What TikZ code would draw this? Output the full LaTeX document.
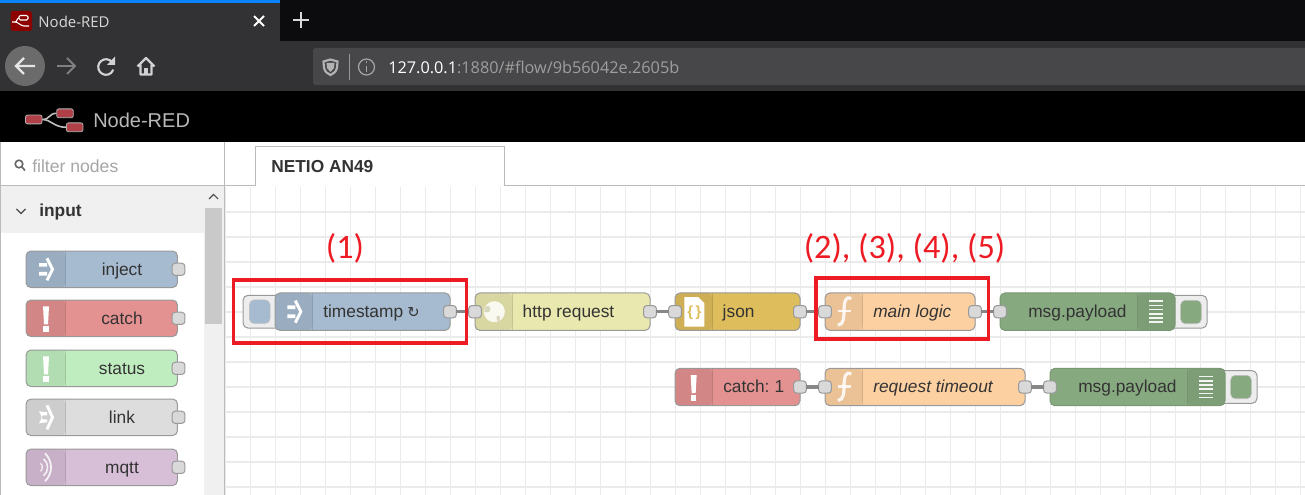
\documentclass[tikz,border=0pt]{standalone}
\usepackage{fontspec}
\setmainfont{Liberation Sans}
\newfontfamily\uifont{Open Sans}
\newfontfamily\notefont{Carlito}
\newfontfamily\symfont{DejaVu Sans}
\usetikzlibrary{positioning,calc}
\pgfdeclarelayer{canvas}
\pgfdeclarelayer{under}
\pgfsetlayers{canvas,under,main}
\definecolor{chrome}{HTML}{323234}
\definecolor{strip}{HTML}{0C0C0E}
\definecolor{urlbg}{HTML}{474749}
\definecolor{tabblue}{HTML}{0A84FF}
\definecolor{edge}{HTML}{BBBBBB}
\definecolor{gridcol}{HTML}{EBEBEB}
\definecolor{injcol}{HTML}{A6BBCF}
\definecolor{catchcol}{HTML}{E49191}
\definecolor{statcol}{HTML}{C0EDC0}
\definecolor{linkcol}{HTML}{DDDDDD}
\definecolor{mqttcol}{HTML}{D8BFD8}
\definecolor{httpcol}{HTML}{E9E8AE}
\definecolor{jsoncol}{HTML}{DEBD5C}
\definecolor{funccol}{HTML}{FDD0A2}
\definecolor{debugcol}{HTML}{87A980}
\definecolor{notered}{HTML}{ED1C24}
\definecolor{nodetxt}{HTML}{333333}
\definecolor{logored}{HTML}{B04048}
\tikzset{
  injecticon/.pic={
    \fill[white] (-7,-6.3) rectangle (1,-2.6) (-7,2.6) rectangle (1,6.3);
    \draw[white,line width=2.2pt,miter limit=6] (1,-11) -- (6.5,0) -- (1,11);
  },
  linkicon/.pic={
    \fill[white] (-7,-6) -- (1,-5) -- (1,-2) -- (-3,-2) -- (-5,0) -- (-3,2) -- (1,2) -- (1,5) -- (-7,6) -- (-4,0) -- cycle;
    \draw[white,line width=2.2pt,miter limit=6] (1,-12) -- (6.5,0) -- (1,12);
  },
  mqtticon/.pic={
    \draw[white,opacity=.85,line width=.9pt] (-5.5,-4) .. controls (-3,-2) and (-3,2) .. (-5.5,4);
    \draw[white,opacity=.85,line width=1.1pt] (-2.5,-8.5) .. controls (3,-4) and (3,4) .. (-2.5,8.5);
    \draw[white,opacity=.85,line width=1.3pt] (-1,-14) .. controls (7,-6) and (7,6) .. (-1,14);
  },
  bangicon/.pic={
    \fill[white] (-3,-12) -- (3,-12) -- (2,6) -- (-2,6) -- cycle;
    \fill[white] (-2.6,8) rectangle (2.6,13.5);
  },
  globeicon/.pic={
    \fill[white,opacity=.85] (0,0) circle (10.5);
    \fill[httpcol!75!black,opacity=.45] (-9,-5) .. controls (-4,-8) and (-3,-3) .. (-5,0) .. controls (-8,1) .. (-10,0) -- cycle;
    \fill[httpcol!75!black,opacity=.45] (2,5) .. controls (5,3) and (7,5) .. (5,9) .. controls (3,10) .. (2,5) -- cycle;
  },
  jsonicon/.pic={
    \fill[white] (-10,-14.5) -- (4,-14.5) -- (10,-8.5) -- (10,15) -- (-10,15) -- cycle;
    \node[text=jsoncol,font=\bfseries\fontsize{11}{13}\selectfont,inner sep=0pt] (bracetxt) at (0,1) {\{\,\}};
  },
  funcicon/.pic={
    \draw[white,opacity=.85,line width=2.4pt] (7,-13) .. controls (1,-16) and (0,-10) .. (-.3,-3) .. controls (-.5,5) and (0,13) .. (-6.5,13.5);
    \draw[white,opacity=.85,line width=1.7pt] (-6,-.5) -- (7,-.5);
  },
  debugicon/.pic={
    \foreach \k in {-2.5,-1.5,-.5,.5,1.5,2.5}
      \fill[white,opacity=.9] (-7,4.2*\k-.8) rectangle (7,4.2*\k+.8);
  }
}
\begin{document}
\begin{tikzpicture}[
      x=.75pt,y=-.75pt,
      node distance=18.75pt,
      flow/.style={
        draw=black!40,
        line width=.75pt,
        rounded corners=3.75pt,
        outer sep=0pt,
        inner sep=0pt,
        minimum height=28.1pt,
        minimum width=#1*.75pt
      },
      pal/.style={
        draw=black!40,
        line width=.75pt,
        rounded corners=3.75pt,
        outer sep=0pt,
        inner sep=0pt,
        minimum height=27.4pt,
        minimum width=113.6pt,
        leftpanel=39.5
      },
      leftpanel/.style={
        path picture={
          \fill[black,opacity=.07] (path picture bounding box.north west) rectangle ([xshift=#1*.75pt]path picture bounding box.south west);
          \draw[black,opacity=.12,line width=.6pt] ([xshift=#1*.75pt]path picture bounding box.north west) -- ([xshift=#1*.75pt]path picture bounding box.south west);
        }
      },
      rightpanel/.style={
        path picture={
          \fill[black,opacity=.07] (path picture bounding box.north east) rectangle ([xshift=-#1*.75pt]path picture bounding box.south east);
          \draw[black,opacity=.1,line width=.6pt] ([xshift=-#1*.75pt]path picture bounding box.north east) -- ([xshift=-#1*.75pt]path picture bounding box.south east);
        }
      },
      port/.style={
        draw=black!40,
        fill=black!15,
        line width=.75pt,
        rounded corners=2.5pt,
        inner sep=0pt,
        outer sep=0pt,
        minimum width=9.7pt,
        minimum height=9.2pt
      },
      wire/.style={draw=black!47,line width=2.4pt},
      lbl/.style={
        anchor=west,
        inner sep=0pt,
        text=nodetxt,
        text height=9.5pt,
        text depth=.6pt,
        font=\fontsize{13}{15}\selectfont
      },
      btn/.style={
        draw=black!40,
        fill=black!7,
        line width=.75pt,
        rounded corners=3.75pt,
        inner sep=0pt,
        outer sep=0pt,
        minimum height=24.6pt,
        minimum width=28pt
      },
      btncore/.style={
        draw=black!25,
        fill=#1,
        rounded corners=3.5pt,
        inner sep=0pt,
        minimum width=15.5pt,
        minimum height=17.6pt
      },
      redbox/.style={
        draw=notered,
        line width=2.6pt,
        minimum width=#1*.75pt,
        inner sep=0pt
      },
      note/.style={
        text=notered,
        inner sep=0pt,
        font=\notefont\fontsize{25.7}{30}\selectfont
      },
      logo/.style={
        draw=black!30,
        fill=logored,
        line width=.6pt,
        rounded corners=1.5pt,
        inner sep=0pt,
        minimum width=12.4pt,
        minimum height=6.6pt
      }
      ]
      \useasboundingbox (0,0) rectangle (1305,495);

      \begin{pgfonlayer}{canvas}
      \fill[white] (0,0) rectangle (1305,495);
      \fill[strip] (280,0) rectangle (1305,41);
      \fill[chrome] (0,0) rectangle (280,41);
      \fill[tabblue] (0,0) rectangle (280,3);
      \fill[chrome] (0,41) rectangle (1305,91);
      \fill[black] (0,91) rectangle (1305,142);
      \foreach \gx in {225,250,...,1300}
        \draw[gridcol,line width=1.2pt] (\gx+.5,187) -- (\gx+.5,495);
      \foreach \gy in {212,237,...,495}
        \draw[gridcol,line width=1.2pt] (225,\gy) -- (1305,\gy);
      \fill[black!6] (1,186) rectangle (204,233);
      \fill[black!6] (204,186) rectangle (224,495);
      \fill[black!21] (205,208) rectangle (222,324);
      \draw[edge,line width=.75pt] (.5,142) -- (.5,495);
      \draw[edge,line width=.75pt] (224.5,142) -- (224.5,495);
      \draw[edge,line width=.75pt] (0,186) -- (1305,186);
      \end{pgfonlayer}

      % browser
      \node[font=\uifont\fontsize{11.2}{14}\selectfont,text=black!15,inner sep=0pt] (tabname) at (74,21.5) {Node-RED};
      \fill[red!55!black,rounded corners=2pt] (10.5,11) rectangle (32,31);
      \draw[white,line width=.8pt,rounded corners=1pt] (19,15.5) rectangle (28,20);
      \draw[white,line width=.8pt] (12,22) -- (15,22) .. controls (17,22) and (17,18) .. (19,18) (15,22) .. controls (18,22) and (21,26) .. (24,26) -- (29,26);
      \draw[white,line width=1.5pt] (254,16) -- (264,26) (264,16) -- (254,26);
      \draw[white!85!black,line width=1.5pt] (301,12) -- (301,28) (293,20) -- (309,20);
      \fill[black!58] (25,66) circle (20);
      \draw[black!10,line width=1.6pt] (16,66) -- (35,66) (24,58) -- (16,66) -- (24,74);
      \draw[black!50,line width=1.4pt] (57,66) -- (75,66) (67,58) -- (75,66) -- (67,74);
      \draw[black!18,line width=1.6pt] (112,62) arc (-40:-340:7.8);
      \fill[black!18] (115,56.5) -- (115,65) -- (107,65) -- cycle;
      \draw[black!18,line width=1.6pt,line join=round] (137.5,66.5) -- (146,58) -- (154.5,66.5) (140.5,65) -- (140.5,74.5) -- (151.5,74.5) -- (151.5,65);
      \fill[black!18] (144,68) rectangle (148,74.5);
      \fill[urlbg,rounded corners=2pt] (313,48) rectangle (1310,85);
      \draw[black!30,line width=1.6pt,fill=urlbg] (323.5,61.5) -- (330.5,59.5) -- (337.5,61.5) -- (337,68) .. controls (336,72) and (333,74) .. (330.5,75) .. controls (328,74) and (325,72) .. (324,68) -- cycle;
      \fill[black!30] (326.5,63) -- (334.5,63) -- (334,68) -- (330.5,72) -- (327,68) -- cycle;
      \draw[black!40] (349,54) -- (349,80);
      \draw[black!35,line width=.9pt] (366.5,67) circle (8);
      \draw[black!35,line width=1.2pt] (366.5,66) -- (366.5,72) (366.5,61.5) -- (366.5,63.5);
      \node[anchor=west,inner sep=0pt,font=\uifont\fontsize{12.2}{15}\selectfont,text=white] (urltxt) at (388,67) {127.0.0.1\textcolor{black!38}{:1880/\#flow/9b56042e.2605b}};

      % header
      \node[logo] (logoa) at (33.8,119.5) {};
      \node[logo] (logob) at (65,113.3) {};
      \node[logo] (logoc) at (74.7,127.3) {};
      \draw[black!25,line width=1.2pt] (logoa.east) .. controls (50,119.5) and (49,113.3) .. (logob.west);
      \draw[black!25,line width=1.2pt] (logoa.east) .. controls (51,119.5) and (54,127.3) .. (logoc.west);
      \node[anchor=west,inner sep=0pt,text=black!28,font=\fontsize{15}{18}\selectfont] (brand) at (93,120.5) {Node-RED};

      % sidebar
      \draw[black!60,line width=1.2pt] (19,164) circle (3.8) (22,167) -- (25,170.5);
      \node[anchor=west,inner sep=0pt,text=black!35,font=\fontsize{13.2}{16}\selectfont] (filter) at (32,166) {filter nodes};
      \draw[black!70,line width=.8pt] (16.5,209) -- (21,213.5) -- (25.5,209);
      \node[anchor=west,inner sep=0pt,text=nodetxt,font=\bfseries\fontsize{13}{15}\selectfont] (inputcat) at (39,212.5) {input};
      \draw[black!70,line width=.8pt] (209,199) -- (213.5,194.5) -- (218,199);
      \foreach \palname/\palcol/\palicon/\paly in {inject/injcol/injecticon/269.3,catch/catchcol/bangicon/318.3,status/statcol/bangicon/368.3,link/linkcol/linkicon/417.3,mqtt/mqttcol/mqtticon/467.3}{
        \node[pal,fill=\palcol] (pal\palname) at (101.75,\paly) {};
        \pic at ([xshift=15pt]pal\palname.west) {\palicon};
        \node[lbl,anchor=center] (txt\palname) at (122,\paly) {\palname};
        \node[port] (port\palname) at (178.5,\paly) {};
      }

      % tab
      \fill[white] (255,147) rectangle (504,186.5);
      \draw[edge,line width=.75pt] (255,186) -- (255,147) -- (504,147) -- (504,186);
      \node[anchor=west,inner sep=0pt,text=black!80,font=\bfseries\fontsize{13}{15}\selectfont] (tabtxt) at (271,166.5) {NETIO AN49};

      % first row
      \node[flow=175,fill=injcol,leftpanel=37.5] (ts) at (362.5,311.7) {};
      \node[flow=175,fill=httpcol,leftpanel=37.5,right=of ts] (http) {};
      \node[flow=125,fill=jsoncol,leftpanel=37.5,right=of http] (json) {};
      \node[flow=150,fill=funccol,leftpanel=37.5,right=of json] (main) {};
      \node[flow=175,fill=debugcol,draw=debugcol!90!black,rightpanel=37.5,right=of main] (pay) {};
      % second row
      \node[flow=125,fill=catchcol,leftpanel=37.5] (catch) at (737.5,387) {};
      \node[flow=200,fill=funccol,leftpanel=37.5,right=of catch] (tout) {};
      \node[flow=175,fill=debugcol,draw=debugcol!90!black,rightpanel=37.5,right=of tout] (payb) {};

      \pic at ([xshift=14.5pt]ts.west) {injecticon};
      \pic at ([xshift=14.5pt]http.west) {globeicon};
      \pic at ([xshift=14.5pt]json.west) {jsonicon};
      \pic at ([xshift=14.5pt]main.west) {funcicon};
      \pic at ([xshift=14pt]catch.west) {bangicon};
      \pic at ([xshift=14.5pt]tout.west) {funcicon};
      \pic at ([xshift=-14.25pt]pay.east) {debugicon};
      \pic at ([xshift=-14.25pt]payb.east) {debugicon};

      \node[lbl] (tstxt) at ([xshift=36pt,yshift=.3pt]ts.west) {timestamp\hspace{3.2pt}{\symfont\fontsize{11}{11}\selectfont ↻}};
      \node[lbl] (httptxt) at ([xshift=35.6pt,yshift=.3pt]http.west) {http request};
      \node[lbl] (jsontxt) at ([xshift=35.6pt,yshift=.3pt]json.west) {json};
      \node[lbl,font=\itshape\fontsize{13}{15}\selectfont] (maintxt) at ([xshift=36pt,yshift=.3pt]main.west) {main logic};
      \node[lbl] (paytxt) at ([xshift=21pt,yshift=.3pt]pay.west) {msg.payload};
      \node[lbl] (catchtxt) at ([xshift=36pt,yshift=.3pt]catch.west) {catch:\hspace{-1pt} 1};
      \node[lbl,font=\itshape\fontsize{13}{15}\selectfont] (touttxt) at ([xshift=36pt,yshift=.3pt]tout.west) {request timeout};
      \node[lbl] (paybtxt) at ([xshift=21pt,yshift=.3pt]payb.west) {msg.payload};

      % buttons sit under the bodies
      \begin{pgfonlayer}{under}
      \node[btn,anchor=west] (tsbtn) at ([xshift=-24pt]ts.west) {};
      \node[btn,anchor=east] (paybtn) at ([xshift=24pt]pay.east) {};
      \node[btn,anchor=east] (paybbtn) at ([xshift=24pt]payb.east) {};
      \end{pgfonlayer}
      \node[btncore=injcol] (tscore) at (259.7,311.7) {};
      \node[btncore=debugcol] (paycore) at (1191,312) {};
      \node[btncore=debugcol] (paybcore) at (1241,387) {};

      \foreach \portname/\portat in {tsout/ts.east,httpin/http.west,httpout/http.east,jsonin/json.west,jsonout/json.east,mainin/main.west,mainout/main.east,payin/pay.west,catchout/catch.east,toutin/tout.west,toutout/tout.east,paybin/payb.west}
        \node[port] (\portname) at (\portat) {};

      \draw[wire] (tsout) -- (httpin);
      \draw[wire] (httpout) -- (jsonin);
      \draw[wire] (jsonout) -- (mainin);
      \draw[wire] (mainout) -- (payin);
      \draw[wire] (catchout) -- (toutin);
      \draw[wire] (toutout) -- (paybin);

      \node[redbox=233,minimum height=47.2pt] (boxa) at (350,311.5) {};
      \node[redbox=172.5,minimum height=45.8pt] (boxb) at (902.3,308.5) {};
      \node[note] (notea) at (345,248.5) {(1)};
      \node[note] (noteb) at (904.5,248.5) {(2), (3), (4), (5)};
    \end{tikzpicture}
\end{document}
